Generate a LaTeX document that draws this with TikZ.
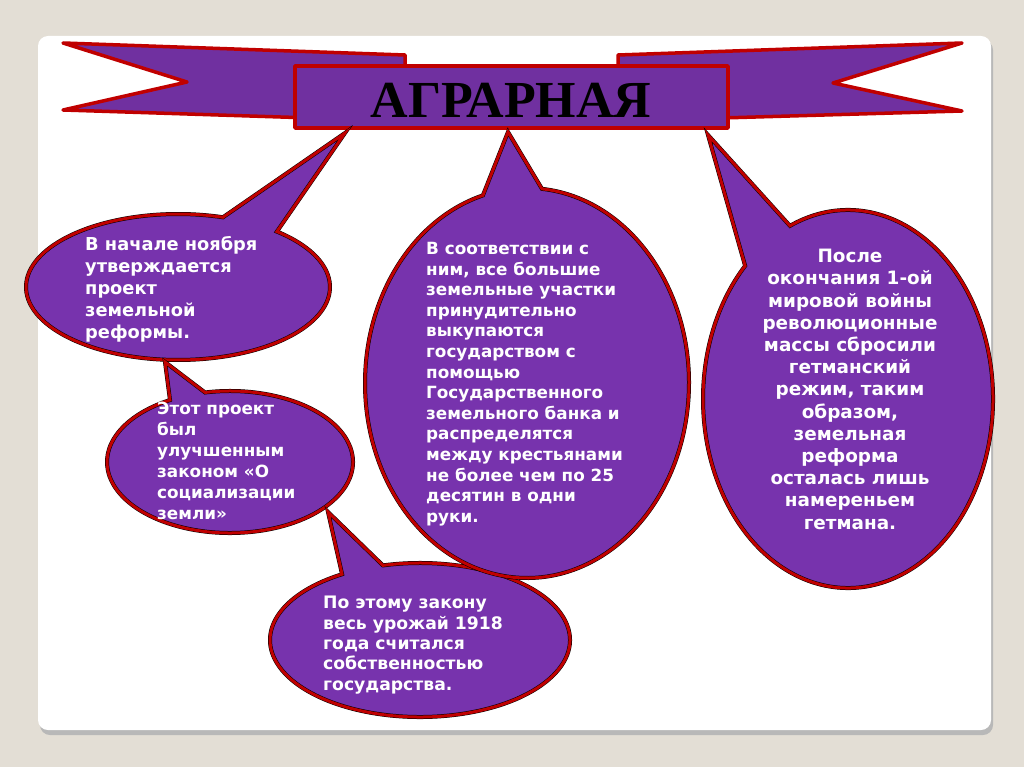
\documentclass[tikz,border=0pt]{standalone}
\usepackage{fontspec}
\setmainfont{DejaVu Sans}
\newfontfamily\titlefont{Liberation Serif}
\usepackage{tikz}
\usetikzlibrary{positioning}
\definecolor{bgsand}{HTML}{E3DED5}
\definecolor{ribbonpurple}{HTML}{7030A0}
\definecolor{ribbonred}{HTML}{C00000}
\definecolor{bubblepurple}{HTML}{7733AD}
\tikzset{%
  banner/.style     = {fill=ribbonpurple, draw=ribbonred, line width=3.5pt, line join=round},
  bubble/.style     = {fill=bubblepurple, draw=black, double=ribbonred,
    double distance=3pt, line width=0.5pt}, % speech bubble
  bubbletext/.style 2 args = {text=white, align=left, inner sep=0pt, anchor=north west,
    font=\bfseries\fontsize{#1}{#2}\selectfont}
}

\begin{document}
\begin{tikzpicture}[x=1pt, y=-1pt]

  % page and card
  \fill[bgsand] (0,0) rectangle (1024,767);
  \useasboundingbox (0,0) rectangle (1024,767);
  \fill[black!28, rounded corners=10pt] (40,40) rectangle (993,735);
  \fill[white, rounded corners=10pt] (38,36) rectangle (991,730);

  % ribbon
  \draw[banner] (63,43) -- (405,55) -- (405,121) -- (63,110) -- (187,82) -- cycle;
  \draw[banner] (618,55) -- (962,43) -- (833,83) -- (962,111) -- (618,121) -- cycle;
  \draw node at (511.5,97) [banner, minimum width=433pt, minimum height=62pt] (titlebox) {};
  \draw node at (511,100) (title) {\titlefont\bfseries\fontsize{52}{52}\selectfont АГРАРНАЯ};

  % bubbles
  \coordinate (tipA) at (345,133);
  \coordinate (tipB) at (165,362);
  \coordinate (tipC) at (328,512);
  \coordinate (tipD) at (508,132);
  \coordinate (tipE) at (708,135);

  \draw[bubble] (178,287) ++(-49.4:152 and 73)
    arc[start angle=-49.4, end angle=287.2, x radius=152, y radius=73] -- (tipA) -- cycle;
  \draw[bubble] (230,462) ++(258.3:123 and 71)
    arc[start angle=258.3, end angle=600.8, x radius=123, y radius=71] -- (tipB) -- cycle;
  \draw[bubble] (420,640) ++(255.7:150 and 77)
    arc[start angle=255.7, end angle=598.7, x radius=150, y radius=77] -- (tipC) -- cycle;
  \draw[bubble] (527,383) ++(275.3:162 and 195)
    arc[start angle=275.3, end angle=614.2, x radius=162, y radius=195] -- (tipD) -- cycle;
  \draw[bubble] (848,399) ++(246.4:145 and 189)
    arc[start angle=246.4, end angle=584.8, x radius=145, y radius=189] -- (tipE) -- cycle;

  % texts
  \draw node at (85,236) [bubbletext={17.8}{22}] (start) {В начале ноября\\утверждается\\проект\\земельной\\реформы.};
  \draw node at (157,402) [bubbletext={16.8}{21}] (project) {Этот проект\\был\\улучшенным\\законом «О\\социализации\\земли»};
  \draw node at (323,596) [bubbletext={17.2}{20.4}] (harvest) {По этому закону\\весь урожай 1918\\года считался\\собственностью\\государства.};
  \draw node at (426,242) [bubbletext={16.8}{20.6}] (buyout) {В соответствии с\\ним, все большие\\земельные участки\\принудительно\\выкупаются\\государством с\\помощью\\Государственного\\земельного банка и\\распределятся\\между крестьянами\\не более чем по 25\\десятин в одни\\руки.};
  \draw node at (850,249) [bubbletext={18.4}{22.2}, align=center, anchor=north] (hetman) {После\\окончания 1-ой\\мировой войны\\революционные\\массы сбросили\\гетманский\\режим, таким\\образом,\\земельная\\реформа\\осталась лишь\\намереньем\\гетмана.};

\end{tikzpicture}
\end{document}
